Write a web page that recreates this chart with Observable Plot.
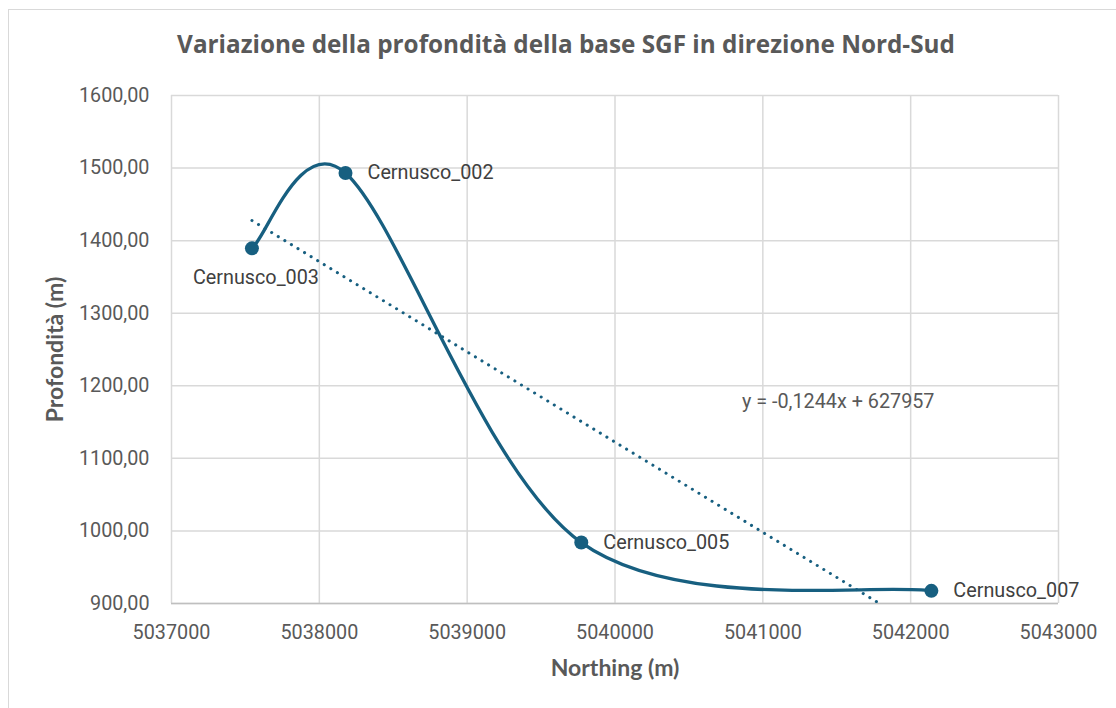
<!DOCTYPE html>
<html>
<head>
<meta charset="utf-8">
<script src="https://cdn.jsdelivr.net/npm/d3@7"></script>
<script src="https://cdn.jsdelivr.net/npm/@observablehq/plot@0.6"></script>
<style>
  body { margin: 0; background: #fff; }
  #chart { position: relative; width: 1116px; height: 708px; overflow: hidden; font-family: Roboto, sans-serif; }
  #frame { position: absolute; left: 8px; top: 9px; width: 1200px; height: 800px; border: 1.5px solid #d9d9d9; box-sizing: border-box; }
  #title { position: absolute; left: 0; width: 1132px; top: 27px; text-align: center;
           font: bold 24.3px "Open Sans", sans-serif; color: #595959; white-space: nowrap; }
  #chart svg { position: absolute; left: 0; top: 0; }
</style>
</head>
<body>
<div id="chart">
  <div id="frame"></div>
  <div id="title">Variazione della profondità della base SGF in direzione Nord-Sud</div>
</div>
<script>
// Wells sampled along the north-south section
const wells = ["Cernusco_003", "Cernusco_002", "Cernusco_005", "Cernusco_007"];
const northing = [5037544, 5038177, 5039772, 5042140];   // m
const depth = [1389.4, 1493.2, 984.0, 917.4];             // m

// Axis ticks
const xTicks = [5037000, 5038000, 5039000, 5040000, 5041000, 5042000, 5043000];
const yTicks = [900, 1000, 1100, 1200, 1300, 1400, 1500, 1600];

// Linear trend equation and where its label sits (data units)
const trendLabel = "y = -0,1244x + 627957";
const trendLabelAt = { x: 5041510, y: 1178 };

// Wells whose name is written under the marker instead of to its right
const labelBelow = ["Cernusco_003"];

const data = wells.map((w, i) => ({ well: w, x: northing[i], y: depth[i] }));

const blue = "#175f80";
const fmtDepth = d => d.toFixed(2).replace(".", ",");

// Spreadsheet-style smoothed line: cubic Béziers with handles of 1/6 of the
// neighbour chord, capped at half the segment length.
function smoothCurve(context) {
  let pts = [];
  const dist = (a, b) => Math.hypot(a[0] - b[0], a[1] - b[1]);
  return {
    areaStart() {}, areaEnd() {},
    lineStart() { pts = []; },
    point(x, y) { pts.push([+x, +y]); },
    lineEnd() {
      const n = pts.length;
      if (!n) return;
      context.moveTo(pts[0][0], pts[0][1]);
      for (let i = 0; i < n - 1; i++) {
        const p0 = pts[Math.max(i - 1, 0)], p1 = pts[i], p2 = pts[i + 1], p3 = pts[Math.min(i + 2, n - 1)];
        const d12 = dist(p1, p2), d02 = dist(p0, p2), d13 = dist(p1, p3);
        let f1 = 1 / 6, f2 = 1 / 6;
        if (d02 / 6 >= d12 / 2) f1 = d12 / d02 / 2;
        if (d13 / 6 >= d12 / 2) f2 = d12 / d13 / 2;
        context.bezierCurveTo(
          p1[0] + f1 * (p2[0] - p0[0]), p1[1] + f1 * (p2[1] - p0[1]),
          p2[0] - f2 * (p3[0] - p1[0]), p2[1] - f2 * (p3[1] - p1[1]),
          p2[0], p2[1]
        );
      }
    }
  };
}

const chart = Plot.plot({
  width: 1116,
  height: 708,
  marginLeft: 171,
  marginRight: 58,
  marginTop: 95,
  marginBottom: 105,
  style: { fontFamily: "Roboto, sans-serif", fontSize: "19.5px", color: "#595959", background: "transparent" },
  x: { domain: [5037000, 5043000] },
  y: { domain: [900, 1600] },
  marks: [
    Plot.gridX(xTicks, { stroke: "#d9d9d9", strokeOpacity: 1, strokeWidth: 1.5 }),
    Plot.gridY(yTicks, { stroke: "#d9d9d9", strokeOpacity: 1, strokeWidth: 1.5 }),
    Plot.ruleY([900], { stroke: "#bfbfbf", strokeWidth: 1.5 }),
    Plot.axisX({ ticks: xTicks, tickFormat: d => String(d), tickSize: 0, tickPadding: 21, label: null, fontSize: 19.8 }),
    Plot.axisY({ ticks: yTicks, tickFormat: fmtDepth, tickSize: 0, tickPadding: 22, label: null, fontSize: 19.8 }),
    Plot.linearRegressionY(data, {
      x: "x", y: "y", ci: 0, stroke: blue, strokeWidth: 3,
      strokeDasharray: "0.1 7.6", strokeLinecap: "round", clip: true
    }),
    Plot.line(data, { x: "x", y: "y", curve: smoothCurve, stroke: blue, strokeWidth: 3.3 }),
    Plot.dot(data, { x: "x", y: "y", r: 7, fill: blue }),
    Plot.text(data.filter(d => !labelBelow.includes(d.well)), {
      x: "x", y: "y", text: "well", textAnchor: "start", dx: 22, fill: "#404040", fontSize: 19.8
    }),
    Plot.text(data.filter(d => labelBelow.includes(d.well)), {
      x: "x", y: "y", text: "well", textAnchor: "middle", dx: 4, dy: 29, fill: "#404040", fontSize: 19.8
    }),
    Plot.text([trendLabel], {
      x: () => trendLabelAt.x, y: () => trendLabelAt.y, text: d => d,
      textAnchor: "middle", fill: "#595959", fontSize: 19.8
    }),
    Plot.text(["Northing (m)"], {
      frameAnchor: "bottom", text: d => d, dy: 72, fontFamily: "Lato, sans-serif",
      fontWeight: "bold", fontSize: 23, fill: "#595959"
    }),
    Plot.text(["Profondità (m)"], {
      frameAnchor: "left", textAnchor: "middle", text: d => d, rotate: -90, dx: -116,
      fontFamily: "Lato, sans-serif", fontWeight: "bold", fontSize: 23, fill: "#595959"
    })
  ]
});

document.getElementById("chart").appendChild(chart);
</script>
</body>
</html>
